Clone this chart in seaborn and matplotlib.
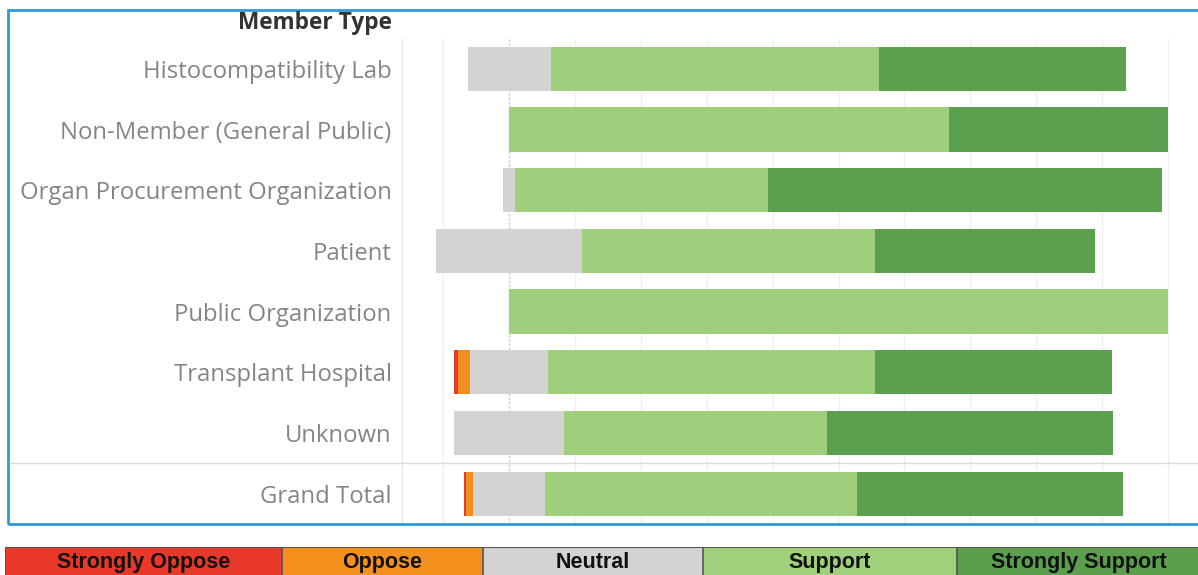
import numpy as np
import pandas as pd
import matplotlib
matplotlib.use('Agg')
import matplotlib.pyplot as plt
from matplotlib.patches import Rectangle
from matplotlib.lines import Line2D
from matplotlib.transforms import blended_transform_factory
import seaborn as sns

# data (percent of responses)
members = ['Histocompatibility Lab', 'Non-Member (General Public)',
           'Organ Procurement Organization', 'Patient', 'Public Organization',
           'Transplant Hospital', 'Unknown', 'Grand Total']
strongly_oppose = [0, 0, 0, 0, 0, 0.6, 0, 0.35]
oppose = [0, 0, 0, 0, 0, 1.8, 0, 1.1]
neutral = [12.6, 0, 1.9, 22.2, 0, 11.9, 16.6, 10.9]
support = [49.9, 66.7, 38.3, 44.4, 100, 49.6, 40.0, 47.4]
strongly_support = [37.5, 33.3, 59.8, 33.4, 0, 36.0, 43.4, 40.25]

categories = ['Strongly Oppose', 'Oppose', 'Neutral', 'Support', 'Strongly Support']
bar_colors = ['#e53a25', '#f28e1d', '#d3d3d3', '#9fcf7d', '#5aa04e']
legend_colors = ['#e8382a', '#f3901e', '#d3d3d3', '#a0d07c', '#5b9e4e']

df = pd.DataFrame({'member': members, 'Strongly Oppose': strongly_oppose,
                   'Oppose': oppose, 'Neutral': neutral, 'Support': support,
                   'Strongly Support': strongly_support})

# diverging offsets: neutral centered on zero
half_n = df['Neutral'] / 2
lefts = {
    'Strongly Oppose': -(half_n + df['Oppose'] + df['Strongly Oppose']),
    'Oppose': -(half_n + df['Oppose']),
    'Neutral': -half_n,
    'Support': half_n,
    'Strongly Support': half_n + df['Support'],
}

sns.set_style('white')
plt.rcParams['font.family'] = ['Open Sans', 'DejaVu Sans']

W, H = 1198, 575
fig = plt.figure(figsize=(W / 100, H / 100), dpi=100)
ax = fig.add_axes([402 / W, 1 - 524 / H, (W - 402) / W, (524 - 38.6) / H])

for cat, col in zip(categories, bar_colors):
    sns.barplot(data=df, x=cat, y='member', left=lefts[cat].values, color=col,
                saturation=1, width=0.73, orient='h', errorbar=None,
                linewidth=0, ax=ax, zorder=3)

ax.set_xlim(-16.24, 104.55)
ax.set_ylim(7.5, -0.5)
ax.set_xticks(np.arange(-10, 101, 10))
ax.grid(axis='x', color='#f0f0f0', lw=1, zorder=0)
ax.axvline(0, color='#c0c0c0', ls=(0, (1, 2)), lw=1, zorder=1)
ax.set_axisbelow(True)
for s in ['top', 'right', 'bottom']:
    ax.spines[s].set_visible(False)
ax.spines['left'].set_color('#e8e8e8')
ax.tick_params(axis='x', length=0, labelbottom=False)
ax.tick_params(axis='y', length=0, pad=7.5, labelsize=17.2, labelcolor='#858585')
ax.set_xlabel('')
ax.set_ylabel('')

# separator above Grand Total
fig.add_artist(Line2D([10 / W, 1], [1 - 463 / H] * 2, color='#d9d9d9', lw=1))

fig.text(392 / W, 1 - 23 / H, 'Member Type', ha='right', va='center',
         fontsize=16.3, fontweight='bold', color='#333333')

# blue frame
fig.add_artist(Rectangle((8 / W, 1 - 524 / H), 1.2, (524 - 10) / H,
                         transform=fig.transFigure, fill=False,
                         edgecolor='#2b9cd8', lw=2))

# colour legend strip
lax = fig.add_axes([5 / W, -0.02, (W - 5) / W, 28 / H + 0.02])
tr = blended_transform_factory(lax.transData, fig.transFigure)
edges = [5, 282, 483, 703, 957, 1200]
for i, (cat, col) in enumerate(zip(categories, legend_colors)):
    lax.axvspan(edges[i], edges[i + 1], color=col, lw=0)
    lax.axvline(edges[i], color='#555555', lw=1.2)
    lax.text((edges[i] + edges[i + 1]) / 2, 1 - 568 / H, cat, ha='center',
             va='baseline', fontsize=15.5, fontweight='bold', color='#111111',
             family=['Liberation Sans', 'DejaVu Sans'], transform=tr)
lax.axhline(1, color='#555555', lw=1.5)
lax.set_xlim(5, W)
lax.set_ylim(0, 1)
lax.axis('off')

fig.savefig('out.png', dpi=100)
